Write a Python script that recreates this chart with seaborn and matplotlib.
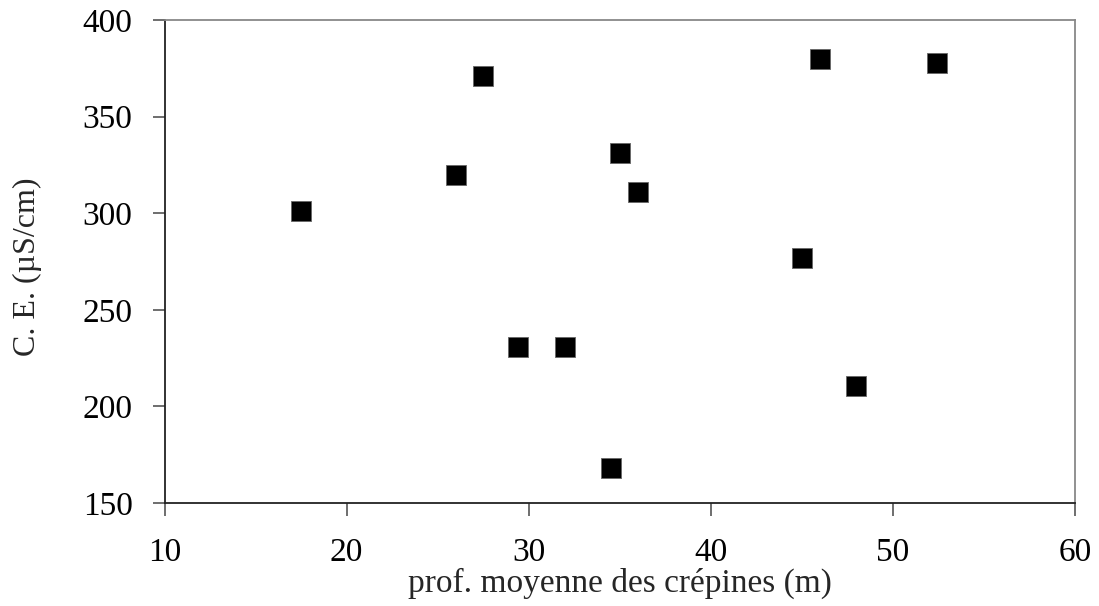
import matplotlib
matplotlib.use("Agg")
import matplotlib.pyplot as plt
import seaborn as sns
import pandas as pd

# Data
prof = [17.5, 27.5, 26.0, 29.4, 32.0, 35.0, 36.0, 34.5, 46.0, 52.4, 45.0, 48.0]
ce = [301, 371, 320, 230.5, 230.5, 331, 311, 168, 380, 378, 277, 210.5]
x_ticks = [10, 20, 30, 40, 50, 60]
y_ticks = [150, 200, 250, 300, 350, 400]
x_label = "prof. moyenne des crépines (m)"
y_label = "C. E. (µS/cm)"

df = pd.DataFrame({"prof": prof, "ce": ce})

sns.set_theme(style="white")
plt.rcParams["font.family"] = ["Liberation Serif", "DejaVu Serif"]

fig = plt.figure(figsize=(10.99, 6.06), dpi=100)
ax = fig.add_axes([164.5 / 1099, 1 - 503 / 606, (1075 - 164.5) / 1099, (503 - 20) / 606])

sns.scatterplot(data=df, x="prof", y="ce", marker="s", s=190, color="black",
                edgecolor="#666666", linewidth=0.6, ax=ax, zorder=3)

ax.set_xlim(10, 60)
ax.set_ylim(150, 400)
ax.set_xticks(x_ticks)
ax.set_yticks(y_ticks)
ax.set_xticklabels([str(t) for t in x_ticks])
ax.set_yticklabels([str(t) for t in y_ticks])

ax.tick_params(axis="both", which="major", direction="out", length=9, width=1.2,
               color="#555555", labelsize=24, labelcolor="black")
ax.tick_params(axis="y", pad=14)
ax.tick_params(axis="x", pad=16)
ax.tick_params(top=False, right=False, left=True, bottom=True)

for side in ["left", "bottom"]:
    ax.spines[side].set_color("#222222")
    ax.spines[side].set_linewidth(1.3)
for side in ["top", "right"]:
    ax.spines[side].set_color("#888888")
    ax.spines[side].set_linewidth(1.3)
    ax.spines[side].set_visible(True)

ax.set_xlabel(x_label, fontsize=24)
ax.set_ylabel(y_label, fontsize=23)
ax.xaxis.set_label_coords(0.5, (503 - 568) / 483)
ax.yaxis.set_label_coords((13 - 164.5) / 910.5, 0.49)
ax.yaxis.label.set_verticalalignment("top")
ax.grid(False)

fig.savefig("out.png", dpi=100, facecolor="white")
